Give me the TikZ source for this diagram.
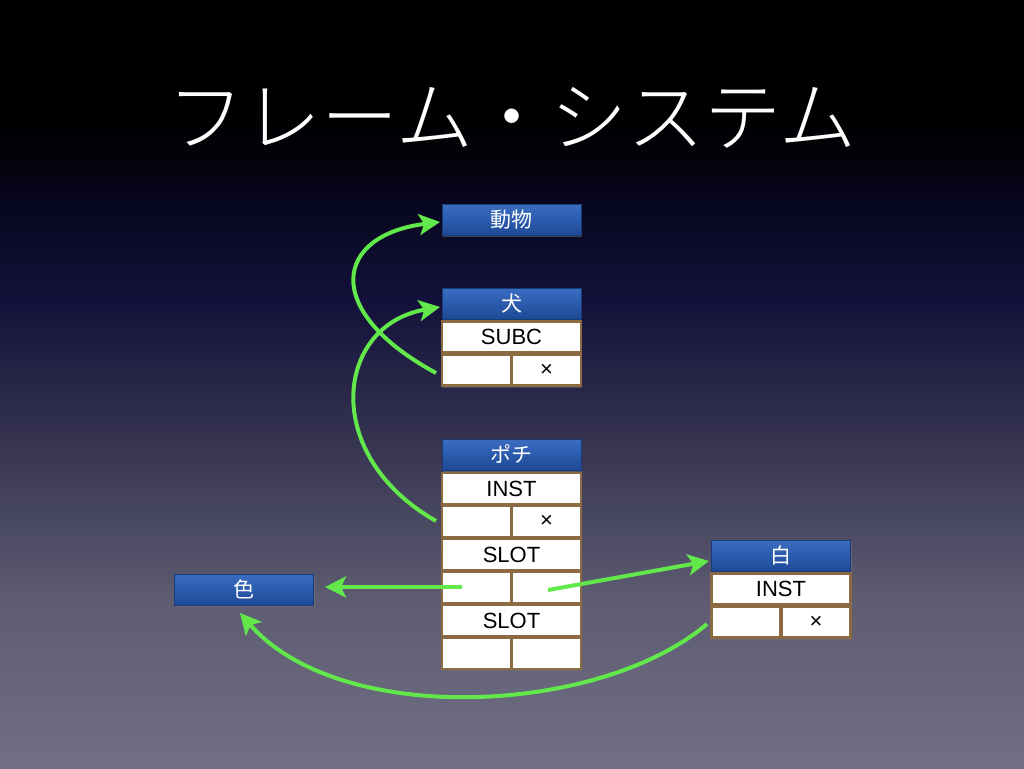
\documentclass[tikz,border=0pt]{standalone}
\usepackage{fontspec}
\setmainfont{Liberation Sans}
\newfontfamily\jp{Noto Sans CJK JP}
\newfontfamily\jplight{Noto Sans CJK JP Light}
\usetikzlibrary{arrows.meta,shadows}
\definecolor{bgbot}{HTML}{706F83}
\definecolor{bgA}{HTML}{5D5C72}
\definecolor{bgB}{HTML}{383652}
\definecolor{bgC}{HTML}{13113A}
\definecolor{bgD}{HTML}{07061E}
\definecolor{bgE}{HTML}{020208}
\definecolor{hdrtop}{HTML}{3A6CC2}
\definecolor{hdrbot}{HTML}{1D4A97}
\definecolor{brownb}{HTML}{8C6B42}
\definecolor{arrowg}{HTML}{62E84A}
% path box maps to 25bp..75bp of the shading
\pgfdeclareverticalshading{bgshade}{100bp}{color(0bp)=(bgbot); color(25bp)=(bgbot); color(35.9bp)=(bgA); color(45.7bp)=(bgB); color(55.5bp)=(bgC); color(62bp)=(bgD); color(65.2bp)=(bgE); color(68.5bp)=(black); color(100bp)=(black)}
\tikzset{
  hdr/.style={top color=hdrtop, bottom color=hdrbot, draw=hdrbot!80!black, line width=0.6pt,
    minimum width=139pt, minimum height=31pt, inner sep=0pt, text=white,
    font=\jp\fontsize{21}{21}\selectfont,
    drop shadow={opacity=0.45, shadow xshift=1pt, shadow yshift=-2pt}},
  cellbox/.style={fill=white, draw=brownb, line width=2.4pt, minimum height=31pt, inner sep=0pt,
    text=black, font=\fontsize{22}{22}\selectfont,
    drop shadow={opacity=0.35, shadow xshift=1pt, shadow yshift=-2pt}},
  wide/.style={cellbox, minimum width=139pt},
  half/.style={cellbox, minimum width=69pt},
  link/.style={draw=arrowg, line width=4pt, -{Stealth[length=21pt, width=21pt, inset=5pt]}},
}
\begin{document}
\begin{tikzpicture}[x=1pt,y=-1pt]
\useasboundingbox (0,0) rectangle (1024,768);
\shade[shading=bgshade] (0,0) rectangle (1024,768);

\node[text=white, font=\jplight\fontsize{77}{77}\selectfont, inner sep=0pt] (title) at (512,118) {フレーム・システム};

% 動物
\node[hdr] (dobutsu) at (511.5,219.5) {動物};
% 犬
\node[hdr] (inu) at (511.5,303.5) {犬};
\node[wide] (subc) at (511.5,337) {SUBC};
\node[half] (inuL) at (476.5,370) {};
\node[half] (inuR) at (546.5,370) {\raisebox{-3pt}{×}};
% ポチ
\node[hdr] (pochi) at (511.5,454.5) {ポチ};
\node[wide] (pinst) at (511.5,488.5) {INST};
\node[half] (p1L) at (476.5,521.5) {};
\node[half] (p1R) at (546.5,521.5) {\raisebox{-3pt}{×}};
\node[wide] (pslot1) at (511.5,554.5) {SLOT};
\node[half] (p2L) at (476.5,587.5) {};
\node[half] (p2R) at (546.5,587.5) {};
\node[wide] (pslot2) at (511.5,620.5) {SLOT};
\node[half] (p3L) at (476.5,653.5) {};
\node[half] (p3R) at (546.5,653.5) {};
% 白
\node[hdr] (shiro) at (781,555.5) {白};
\node[wide] (sinst) at (781,589) {INST};
\node[half] (sL) at (746,622) {};
\node[half] (sR) at (816,622) {\raisebox{-3pt}{×}};
% 色
\node[hdr] (iro) at (244,589.5) {色};

% connector end points
\coordinate (a1s) at (436,373);
\coordinate (a1e) at (440,222);
\coordinate (a2s) at (436,521);
\coordinate (a2e) at (440,307);
\coordinate (a3s) at (462,587);
\coordinate (a3e) at (325,587);
\coordinate (a4s) at (548,590);
\coordinate (a4e) at (709,561);
\coordinate (a5s) at (707,624);
\coordinate (a5e) at (240,613);

\draw[link] (a1s) .. controls (320,310) and (335,235) .. (a1e);
\draw[link] (a2s) .. controls (320,455) and (335,325) .. (a2e);
\draw[link] (a3s) -- (a3e);
\draw[link] (a4s) -- (a4e);
\draw[link] (a5s) .. controls (600,715) and (340,728) .. (a5e);
\end{tikzpicture}
\end{document}
